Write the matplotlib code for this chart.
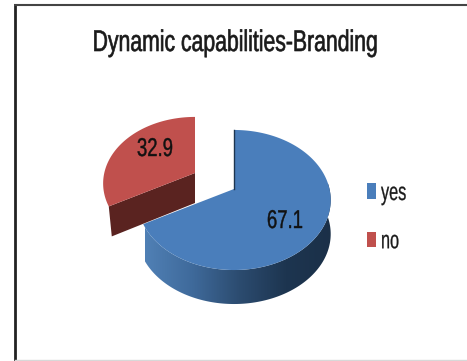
import numpy as np
import matplotlib
matplotlib.use("Agg")
import matplotlib.pyplot as plt
from matplotlib.colors import LinearSegmentedColormap
from matplotlib.patches import Patch, Polygon
from matplotlib.patheffects import AbstractPathEffect
from matplotlib.transforms import Affine2D

# Chart content
title = "Dynamic capabilities-Branding"
categories = ["yes", "no"]
values = [67.1, 32.9]
value_labels = ["67.1", "32.9"]

FONT = ["Liberation Sans", "DejaVu Sans"]
BLUE, RED = "#4a7ebb", "#c0504d"
RED_CUT = "#5a2320"

# Pie geometry in pixel units: perspective-tilted disc
CX, CY = 234.0, 189.0
RX, RY, PERSP = 95.5, 68.3, 0.157
DEPTH_BLUE, DEPTH_RED = 34.0, 30.0
EXPLODE = (-39.0, -16.0)
RED_SCALE = 0.95


class Condensed(AbstractPathEffect):
    """Narrow and slightly embolden glyph outlines, about screen x=anchor or the text origin."""

    def __init__(self, squeeze, anchor=None, stroke=0.45):
        super().__init__()
        self.squeeze = squeeze
        self.anchor = anchor
        self.stroke = stroke

    def draw_path(self, renderer, gc, tpath, affine, rgbFace=None):
        if self.anchor is None:
            narrowed = Affine2D().scale(self.squeeze, 1) + affine
        else:
            narrowed = affine + (Affine2D().translate(-self.anchor, 0)
                                 .scale(self.squeeze, 1).translate(self.anchor, 0))
        gc0 = renderer.new_gc()
        gc0.copy_properties(gc)
        gc0.set_foreground(rgbFace)
        gc0.set_linewidth(self.stroke)
        renderer.draw_path(gc0, tpath, narrowed, rgbFace)
        gc0.restore()


def rim(a0, a1, dx=0.0, dy=0.0, scale=1.0, n=160):
    """Projected rim points, angles in degrees clockwise from twelve o'clock."""
    t = np.radians(np.linspace(a0, a1, n))
    u, v = np.sin(t), np.cos(t)
    w = 1 + PERSP * v
    return np.column_stack([CX + dx + scale * RX * u / w, CY + dy - scale * RY * v / w])


fig = plt.figure(figsize=(4.67, 3.61), dpi=100, facecolor="white")
ax = fig.add_axes([0, 0, 1, 1])
ax.set_axis_off()

sweep = 360 * values[0] / sum(values)

# Blue slice: shaded outer wall, then the top face
wall = rim(85, sweep)
wall_poly = np.vstack([wall, (wall + [0, DEPTH_BLUE])[::-1]])
shade = LinearSegmentedColormap.from_list(
    "wall", ["#5080b5", "#3f6a9b", "#2c4c70", "#1d3550", "#1b3048"])
clip = Polygon(wall_poly, closed=True, fc="none", ec="none")
ax.add_patch(clip)
img = ax.imshow(np.linspace(0, 1, 256)[None, :], cmap=shade, aspect="auto",
                extent=(145, 333, 320, 180), zorder=2)
img.set_clip_path(clip)
top_blue = np.vstack([[CX, CY], rim(0, sweep)])
ax.add_patch(Polygon(top_blue, closed=True, fc=BLUE, ec="none", zorder=3))
ax.plot([CX, CX], [CY, CY - 59], color="#1d3550", lw=1.0, zorder=4)

# Red slice, pulled out of the pie
dx, dy = EXPLODE
apex = np.array([CX + dx, CY + dy])
red_rim = rim(sweep, 360, dx, dy, RED_SCALE)
cut = np.array([red_rim[0], apex, apex + [0, DEPTH_RED], red_rim[0] + [3, DEPTH_RED]])
ax.add_patch(Polygon(cut, closed=True, fc=RED_CUT, ec="none", zorder=3))
ax.add_patch(Polygon(np.vstack([apex, red_rim]), closed=True, fc=RED, ec="none", zorder=4))

# Value labels
for label, (lx, ly) in zip(value_labels, [(285, 221), (155, 149)]):
    t = ax.text(lx, ly, label, family=FONT, fontsize=18.5, color="#111111",
                ha="center", va="center", zorder=6)
    t.set_path_effects([Condensed(0.72, anchor=lx, stroke=0.3)])

# Title
t = ax.text(235.5, 43, title, family=FONT, fontsize=21.5, color="#1a1a1a",
            ha="center", va="center", zorder=6)
t.set_path_effects([Condensed(0.71, anchor=235.5)])

# Legend
handles = [Patch(fc=BLUE, ec="none"), Patch(fc=RED, ec="none")]
legend = ax.legend(handles, categories, loc="upper left",
                   bbox_to_anchor=(367 / 467, 1 - 181 / 361),
                   frameon=False, prop={"family": FONT, "size": 18},
                   handlelength=0.36, handleheight=0.6, handletextpad=0.2,
                   labelspacing=0.97, borderpad=0, borderaxespad=0, labelcolor="#1a1a1a")
for t in legend.get_texts():
    t.set_path_effects([Condensed(0.65, stroke=0.2)])

# Outer frame: dark on the left and top, faint along the bottom
ax.plot([14.5, 14.5], [361, 5], color="#222222", lw=2.0, solid_capstyle="butt", zorder=7)
ax.plot([13.5, 467], [5, 5], color="#444444", lw=1.5, solid_capstyle="butt", zorder=7)
ax.plot([15, 467], [360, 360], color="#d8d8d8", lw=1.0, zorder=7)

ax.set_xlim(0, 467)
ax.set_ylim(361, 0)
fig.savefig("out.png", dpi=100, facecolor="white")
